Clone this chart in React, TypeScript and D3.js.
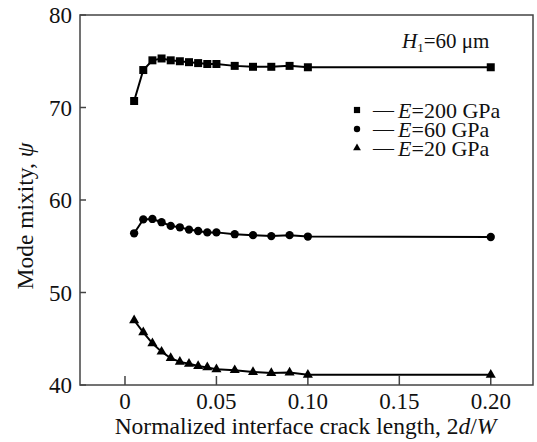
import React from "react";
import * as d3 from "d3";

const crackLength = [0.005, 0.01, 0.015, 0.02, 0.025, 0.03, 0.035, 0.04, 0.045, 0.05, 0.06, 0.07, 0.08, 0.09, 0.1, 0.2];
const psiE200 = [70.7, 74.05, 75.1, 75.3, 75.1, 75.0, 74.9, 74.8, 74.7, 74.7, 74.5, 74.4, 74.4, 74.5, 74.35, 74.35];
const psiE60 = [56.4, 57.9, 57.95, 57.6, 57.2, 57.05, 56.8, 56.65, 56.5, 56.5, 56.3, 56.2, 56.1, 56.2, 56.05, 56.0];
const psiE20 = [47.0, 45.7, 44.5, 43.6, 42.9, 42.5, 42.3, 42.05, 41.9, 41.7, 41.6, 41.4, 41.3, 41.35, 41.1, 41.1];
const xTicks = [0, 0.05, 0.1, 0.15, 0.2];
const xTickLabels = ["0", "0.05", "0.10", "0.15", "0.20"];
const yTicks = [40, 50, 60, 70, 80];
const legendLabels = ["200", "60", "20"];

const App = () => {
  const margin = { top: 15, right: 4, bottom: 57, left: 80 };
  const width = 537 - margin.left - margin.right;
  const height = 442 - margin.top - margin.bottom;
  const font = "Liberation Serif";

  const xScale = d3.scaleLinear().domain([-0.0246, 0.2231]).range([0, width]);
  const yScale = d3.scaleLinear().domain([40, 80]).range([height, 0]);

  const line = d3
    .line<number>()
    .x((d, i) => xScale(crackLength[i]))
    .y((d) => yScale(d));

  const series = [
    { values: psiE200, shape: d3.symbolSquare, size: 64 },
    { values: psiE60, shape: d3.symbolCircle, size: 54 },
    { values: psiE20, shape: d3.symbolTriangle, size: 44 },
  ];

  const txt = { fontFamily: font, fill: "#111" };

  return (
    <svg width={537} height={442} style={{ position: "absolute", left: 0, top: 0 }}>
      <g transform={`translate(${margin.left},${margin.top})`}>
        <rect x={0} y={0} width={width} height={height} fill="none" stroke="#444" strokeWidth={1.5} />
        {xTicks.map((t, i) => (
          <g key={t} transform={`translate(${xScale(t)},${height})`}>
            <line y1={0} y2={-9} stroke="#444" strokeWidth={1.5} />
            <text y={24} textAnchor="middle" fontSize={23} style={txt}>
              {xTickLabels[i]}
            </text>
          </g>
        ))}
        {yTicks.map((t) => (
          <g key={t} transform={`translate(0,${yScale(t)})`}>
            <line x1={0} x2={6} stroke="#444" strokeWidth={1.5} />
            <text x={-8} dy="0.35em" textAnchor="end" fontSize={23} style={txt}>
              {t}
            </text>
          </g>
        ))}
        {series.map((s, k) => (
          <g key={k}>
            <path d={line(s.values) ?? ""} fill="none" stroke="#000" strokeWidth={2} />
            {s.values.map((v, i) => (
              <path
                key={i}
                transform={`translate(${xScale(crackLength[i])},${yScale(v)})`}
                d={d3.symbol().type(s.shape).size(s.size)() ?? ""}
                fill="#000"
              />
            ))}
          </g>
        ))}
        <text x={322} y={33} fontSize={21} style={txt}>
          <tspan fontStyle="italic">H</tspan>
          <tspan fontSize={13} dy={4}>1</tspan>
          <tspan dy={-4}>=60 μm</tspan>
        </text>
        {series.map((s, k) => (
          <g key={k} transform={`translate(0,${95 + k * 19})`}>
            <path
              transform="translate(277,0)"
              d={d3.symbol().type(s.shape).size(s.size * 0.6)() ?? ""}
              fill="#000"
            />
            <text x={293} dy="0.35em" fontSize={21} style={txt}>
              —
            </text>
            <text x={318} dy="0.35em" fontSize={22} style={txt}>
              <tspan fontStyle="italic">E</tspan>={legendLabels[k]} GPa
            </text>
          </g>
        ))}
        <text x={width / 2 - 1} y={height + 49} textAnchor="middle" fontSize={23.5} style={txt}>
          Normalized interface crack length, 2<tspan fontStyle="italic">d</tspan>/
          <tspan fontStyle="italic">W</tspan>
        </text>
        <text
          transform={`translate(${-margin.left + 33},${height / 2 + 16})rotate(-90)`}
          textAnchor="middle"
          fontSize={23.5}
          style={txt}
        >
          Mode mixity, <tspan fontStyle="italic">ψ</tspan>
        </text>
      </g>
    </svg>
  );
};

export default App;
